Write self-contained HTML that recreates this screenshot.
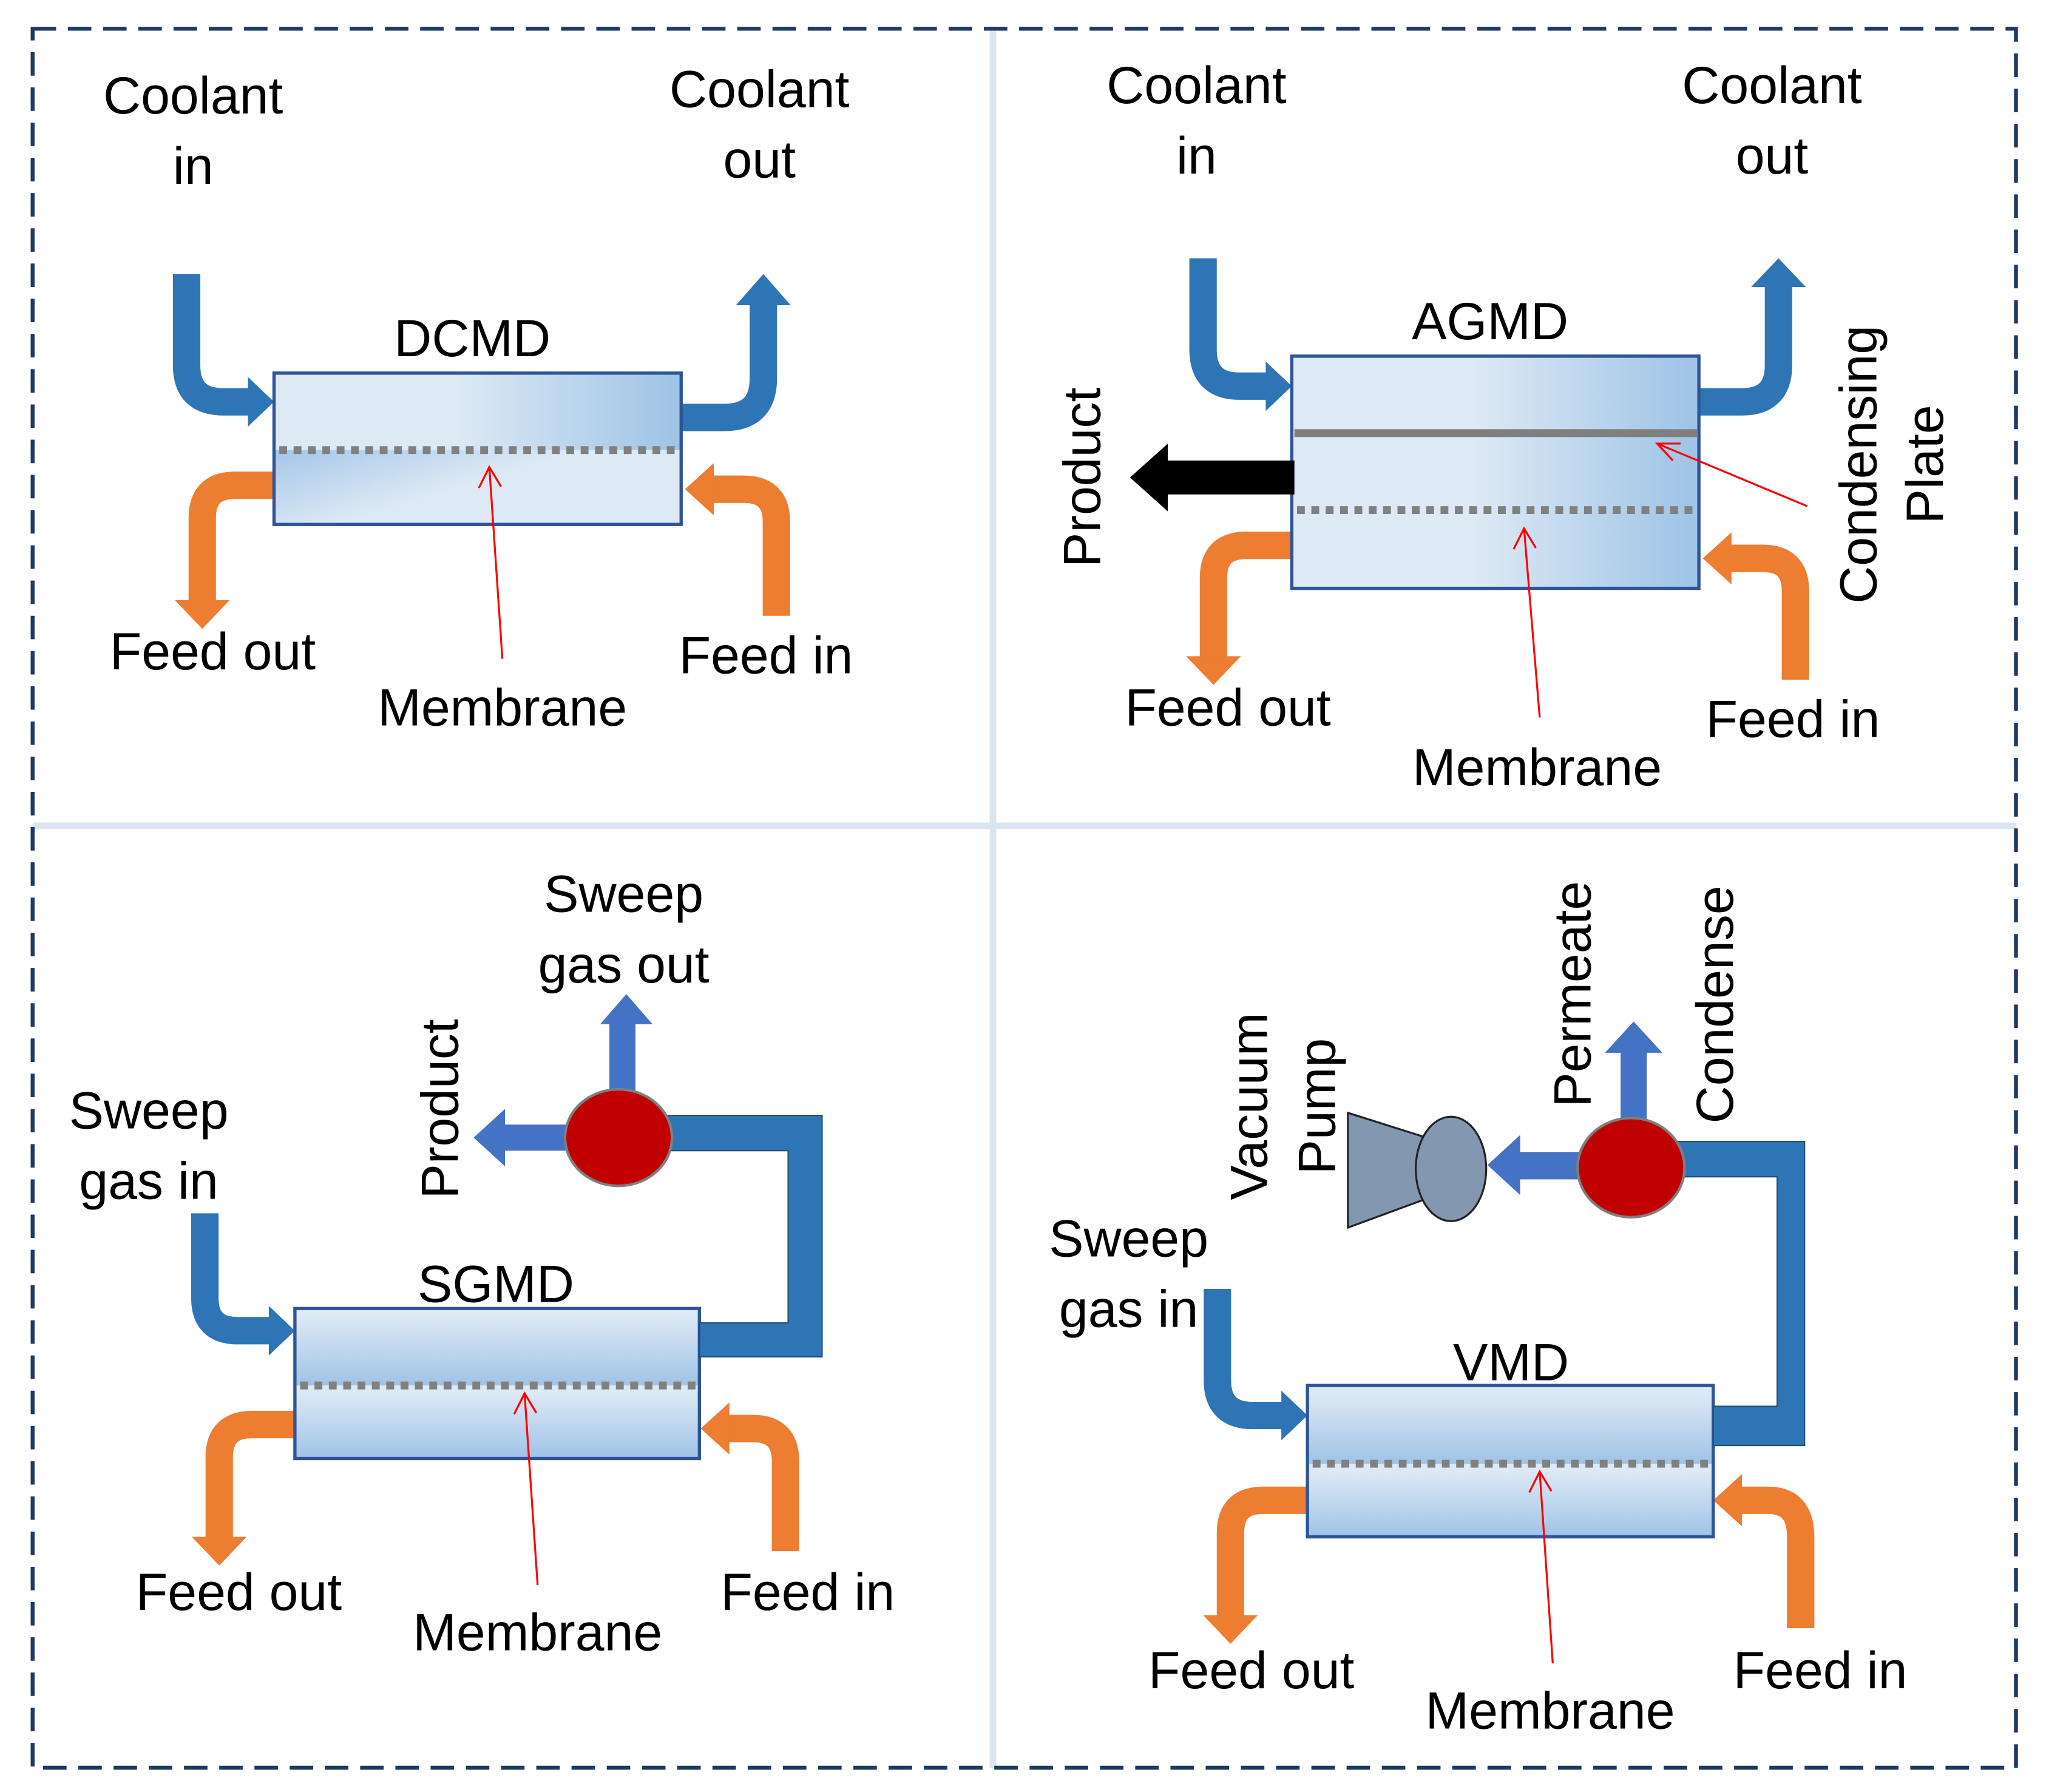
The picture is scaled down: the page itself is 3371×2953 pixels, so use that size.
<!DOCTYPE html>
<html><head><meta charset="utf-8"><style>html,body{margin:0;padding:0;background:#fff}svg{display:block}</style></head>
<body>
<svg xmlns="http://www.w3.org/2000/svg" width="3371" height="2953" viewBox="0 0 1568 1373.6" font-family="Liberation Sans, sans-serif" font-size="40" text-anchor="middle">
<defs>
<linearGradient id="gh" x1="0" y1="0" x2="1" y2="0"><stop offset="0.45" stop-color="#dde9f5"/><stop offset="1" stop-color="#9dc3e6"/></linearGradient>
<linearGradient id="gd" x1="0" y1="0" x2="1" y2="0.6"><stop offset="0" stop-color="#a4c6e8"/><stop offset="0.55" stop-color="#dde9f5"/><stop offset="1" stop-color="#dde9f5"/></linearGradient>
<linearGradient id="gv" x1="0" y1="0" x2="0" y2="1"><stop offset="0.1" stop-color="#dde9f5"/><stop offset="1" stop-color="#9fc3e6"/></linearGradient>
</defs>
<rect width="1568" height="1373.6" fill="#fff"/>
<line x1="761" y1="22" x2="761" y2="1355" stroke="#dbe5f1" stroke-width="5"/>
<line x1="25" y1="633" x2="1545" y2="633" stroke="#dbe5f1" stroke-width="5"/>
<rect x="25" y="22" width="1520" height="1333" fill="none" stroke="#1f3864" stroke-width="3" stroke-dasharray="18,9"/>

<g fill="none" stroke-width="21">
<path d="M143 210 V280 Q143 308 171 308 H192" stroke="#2e75b6"/>
<path d="M522 320 H555 Q585 320 585 290 V232" stroke="#2e75b6"/>
<path d="M210 372 H180 Q155 372 155 397 V462" stroke="#ed7d31"/>
<path d="M595 472 V400 Q595 375 570 375 H545" stroke="#ed7d31"/>
<path d="M922 198 V268 Q922 296 950 296 H972" stroke="#2e75b6"/>
<path d="M1302 308 H1335 Q1363 308 1363 280 V220" stroke="#2e75b6"/>
<path d="M990 418 H955 Q930 418 930 443 V505" stroke="#ed7d31"/>
<path d="M1376 521 V453 Q1376 428 1351 428 H1325" stroke="#ed7d31"/>
<path d="M157 930 V995 Q157 1020 182 1020 H208" stroke="#2e75b6"/>
<path d="M226 1092 H193 Q168 1092 168 1117 V1180" stroke="#ed7d31"/>
<path d="M602 1189 V1120 Q602 1095 577 1095 H557" stroke="#ed7d31"/>
<path d="M933 988 V1058 Q933 1085 960 1085 H984" stroke="#2e75b6"/>
<path d="M1002 1150 H968 Q943 1150 943 1175 V1240" stroke="#ed7d31"/>
<path d="M1380 1248 V1178 Q1380 1150 1355 1150 H1333" stroke="#ed7d31"/>
</g>
<g fill="#2e75b6">
<polygon points="190,289 210,308 190,327"/>
<polygon points="564,234 585,210 606,234"/>
<polygon points="970,277 990,296 970,315"/>
<polygon points="1342,220 1363,198 1384,220"/>
<polygon points="206,1001 226,1020 206,1039"/>
<polygon points="982,1066 1002,1085 982,1104"/>
</g>
<g fill="#ed7d31">
<polygon points="134,460 155,482 176,460"/>
<polygon points="547,355 525,375 547,395"/>
<polygon points="909,503 930,525 951,503"/>
<polygon points="1327,408 1305,428 1327,448"/>
<polygon points="147,1178 168,1200 189,1178"/>
<polygon points="559,1075 537,1095 559,1115"/>
<polygon points="922,1238 943,1260 964,1238"/>
<polygon points="1335,1130 1313,1150 1335,1170"/>
</g>

<rect x="210" y="286" width="312" height="59" fill="url(#gh)"/>
<rect x="210" y="345" width="312" height="57" fill="url(#gd)"/>
<rect x="210" y="286" width="312" height="116" fill="none" stroke="#2f5597" stroke-width="2.5"/>
<line x1="214" y1="345" x2="520" y2="345" stroke="#808080" stroke-width="6" stroke-dasharray="6,5"/>
<rect x="990" y="273" width="312" height="118" fill="url(#gh)"/>
<rect x="990" y="391" width="312" height="60" fill="url(#gh)"/>
<rect x="990" y="273" width="312" height="178" fill="none" stroke="#2f5597" stroke-width="2.5"/>
<line x1="992" y1="332" x2="1301" y2="332" stroke="#7f7f7f" stroke-width="6"/>
<line x1="994" y1="391" x2="1300" y2="391" stroke="#808080" stroke-width="6" stroke-dasharray="6,5"/>
<polygon points="992,353 895,353 895,340 866,366 895,392 895,379 992,379" fill="#000"/>
<rect x="226" y="1003" width="310" height="59" fill="url(#gv)"/>
<rect x="226" y="1062" width="310" height="56" fill="url(#gv)"/>
<rect x="226" y="1003" width="310" height="115" fill="none" stroke="#2f5597" stroke-width="2.5"/>
<line x1="230" y1="1062" x2="534" y2="1062" stroke="#808080" stroke-width="6" stroke-dasharray="6,5"/>
<polygon points="536,1014 604,1014 604,882 510,882 510,855 630,855 630,1040 536,1040" fill="#2e75b6" stroke="#1f4e79" stroke-width="1"/>
<rect x="467" y="783" width="20" height="60" fill="#4472c4"/>
<polygon points="460,785 480,762 500,785" fill="#4472c4"/>
<rect x="385" y="862" width="60" height="20" fill="#4472c4"/>
<polygon points="387,850 363,872 387,894" fill="#4472c4"/>
<ellipse cx="474" cy="872" rx="41" ry="37" fill="#c00000" stroke="#7f7f7f" stroke-width="2"/>
<rect x="1002" y="1062" width="311" height="60" fill="url(#gv)"/>
<rect x="1002" y="1122" width="311" height="56" fill="url(#gv)"/>
<rect x="1002" y="1062" width="311" height="116" fill="none" stroke="#2f5597" stroke-width="2.5"/>
<line x1="1006" y1="1122" x2="1311" y2="1122" stroke="#808080" stroke-width="6" stroke-dasharray="6,5"/>
<polygon points="1313,1078 1362,1078 1362,902 1285,902 1285,875 1383,875 1383,1108 1313,1108" fill="#2e75b6" stroke="#1f4e79" stroke-width="1"/>
<rect x="1242" y="805" width="20" height="55" fill="#4472c4"/>
<polygon points="1230,807 1252,783 1274,807" fill="#4472c4"/>
<rect x="1162" y="883" width="55" height="21" fill="#4472c4"/>
<polygon points="1165,870 1140,893 1165,916" fill="#4472c4"/>
<ellipse cx="1250" cy="895" rx="41" ry="38" fill="#c00000" stroke="#7f7f7f" stroke-width="2"/>
<polygon points="1033,853 1090,871 1090,920 1033,941" fill="#8497b0" stroke="#222" stroke-width="1.5"/>
<ellipse cx="1112" cy="896" rx="27" ry="40" fill="#8497b0" stroke="#222" stroke-width="1.5"/>

<g stroke="#ff0000" stroke-width="1.5" fill="none">
<path d="M385 505 L375 358 M367 374 L375 358 L384 373"/>
<path d="M1180 550 L1168 405 M1160 421 L1168 405 L1177 420"/>
<path d="M1385 388 L1270 340 M1288 340 L1270 340 L1282 353"/>
<path d="M412 1215 L402 1068 M394 1084 L402 1068 L411 1083"/>
<path d="M1190 1275 L1180 1128 M1172 1144 L1180 1128 L1189 1143"/>
</g>

<g fill="#000">
<text x="148" y="87">Coolant</text><text x="148" y="141">in</text>
<text x="582" y="82">Coolant</text><text x="582" y="136">out</text>
<text x="362" y="273">DCMD</text>
<text x="163" y="513">Feed out</text>
<text x="385" y="556">Membrane</text>
<text x="587" y="516">Feed in</text>

<text x="917" y="79">Coolant</text><text x="917" y="133">in</text>
<text x="1358" y="79">Coolant</text><text x="1358" y="133">out</text>
<text x="1142" y="260">AGMD</text>
<text transform="translate(843,366) rotate(-90)">Product</text>
<text transform="translate(1438,356) rotate(-90)">Condensing</text>
<text transform="translate(1489,356) rotate(-90)">Plate</text>
<text x="941" y="556">Feed out</text>
<text x="1178" y="602">Membrane</text>
<text x="1374" y="565">Feed in</text>

<text x="114" y="865">Sweep</text><text x="114" y="919">gas in</text>
<text x="478" y="699">Sweep</text><text x="478" y="753">gas out</text>
<text transform="translate(351,850) rotate(-90)">Product</text>
<text x="380" y="998">SGMD</text>
<text x="183" y="1234">Feed out</text>
<text x="412" y="1265">Membrane</text>
<text x="619" y="1234">Feed in</text>

<text x="865" y="963">Sweep</text><text x="865" y="1017">gas in</text>
<text transform="translate(971,848) rotate(-90)">Vacuum</text>
<text transform="translate(1023,848) rotate(-90)">Pump</text>
<text transform="translate(1219,762) rotate(-90)">Permeate</text>
<text transform="translate(1328,770) rotate(-90)">Condense</text>
<text x="1158" y="1058">VMD</text>
<text x="959" y="1294">Feed out</text>
<text x="1188" y="1325">Membrane</text>
<text x="1395" y="1294">Feed in</text>
</g>
</svg>
</body></html>
